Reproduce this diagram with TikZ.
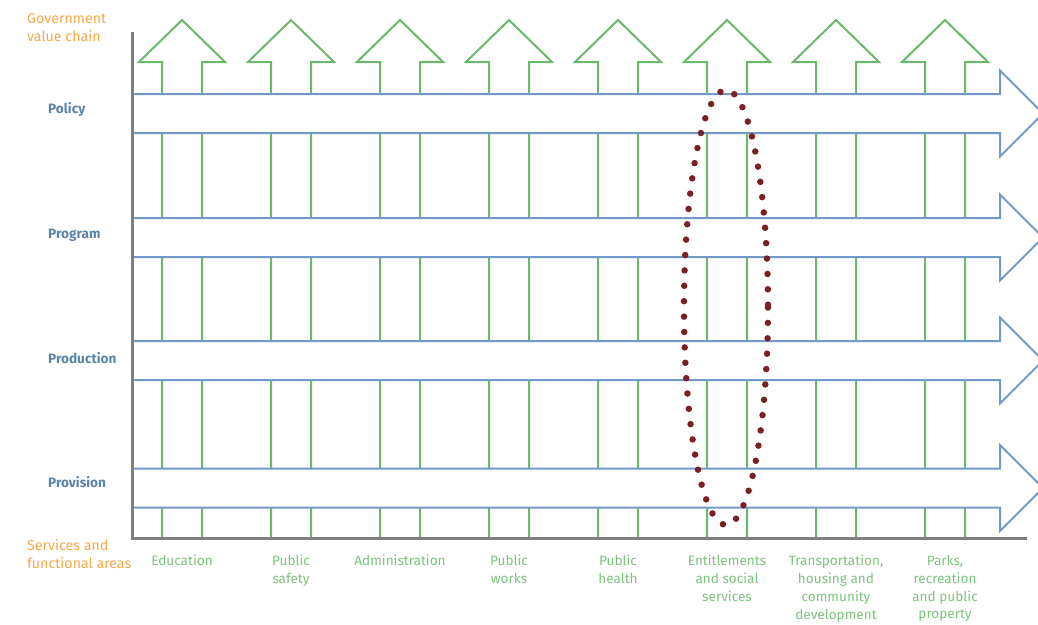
\documentclass[tikz,border=0pt]{standalone}
\usepackage{fontspec}
\setmainfont{Fira Sans}
\definecolor{vgreen}{HTML}{6AB86B}
\definecolor{tgreen}{HTML}{7CC37E}
\definecolor{vblue}{HTML}{7399C6}
\definecolor{tblue}{HTML}{5A85A8}
\definecolor{torange}{HTML}{F7A84A}
\definecolor{vred}{HTML}{7A1F24}
\begin{document}
\begin{tikzpicture}[x=1pt,y=-1pt,
    uparrow/.style={draw=vgreen,line width=2pt,line join=miter},
    rowarrow/.style={draw=vblue,line width=2pt,line join=miter},
    rowlabel/.style={text=tblue,font=\fontsize{13.6}{18}\selectfont\bfseries,anchor=west,inner sep=0pt},
    sidelabel/.style={text=torange,font=\fontsize{14.2}{18.5}\selectfont,anchor=west,align=left,inner sep=0pt},
    arealabel/.style={text=tgreen,font=\fontsize{13.6}{17.8}\selectfont,anchor=north,align=center,inner sep=0pt}]

    \useasboundingbox (0,0) rectangle (1038,624);

    % the columns
    \foreach \c in {182,291,400,509,618,727,836,945}
      \draw[uparrow] (\c-20,538) -- (\c-20,62) -- (\c-43,62) -- (\c,20)
        -- (\c+43,62) -- (\c+20,62) -- (\c+20,538);

    % the rows
    \foreach \r in {113.5,237.5,360.5,488}{
      \fill[white] (132,\r-19.5) -- (1000,\r-19.5) -- (1000,\r-43) -- (1043,\r)
        -- (1000,\r+43) -- (1000,\r+19.5) -- (132,\r+19.5) -- cycle;
      \draw[rowarrow] (132,\r-19.5) -- (1000,\r-19.5) -- (1000,\r-43) -- (1043,\r)
        -- (1000,\r+43) -- (1000,\r+19.5) -- (132,\r+19.5);
    }

    % the axes
    \coordinate (top) at (132,32);
    \coordinate (origin) at (132,538);
    \coordinate (right) at (1027,538);
    \draw[gray,line width=3pt] (top) -- (origin) -- (right);

    % the dotted ring
    \draw[vred,line width=6.5pt,line cap=round,dash pattern=on 0pt off 15.4pt]
      (726,307.5) ellipse [x radius=42,y radius=217.5];

    % the texts
    \node[sidelabel] (chain) at (27,27.5) {Government\\value chain};
    \node[sidelabel] (areas) at (27,554) {Services and\\functional areas};

    \node[rowlabel] (policy) at (48,109) {Policy};
    \node[rowlabel] (program) at (48,235) {Program};
    \node[rowlabel] (production) at (48,358) {Production};
    \node[rowlabel] (provision) at (48,482) {Provision};

    \node[arealabel] (education) at (182,555) {Education};
    \node[arealabel] (safety) at (291,555) {Public\\safety};
    \node[arealabel] (admin) at (400,555) {Administration};
    \node[arealabel] (works) at (509,555) {Public\\works};
    \node[arealabel] (health) at (618,555) {Public\\health};
    \node[arealabel] (social) at (727,555) {Entitlements\\and social\\services};
    \node[arealabel] (transport) at (836,555) {Transportation,\\housing and\\community\\development};
    \node[arealabel] (parks) at (945,555) {Parks,\\recreation\\and public\\property};
  \end{tikzpicture}
\end{document}
